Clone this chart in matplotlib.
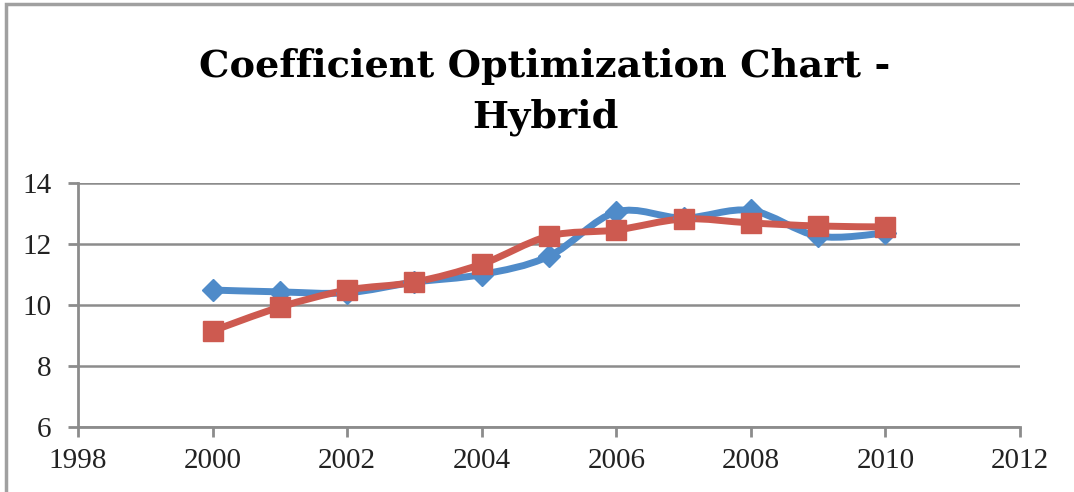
import matplotlib.pyplot as plt
import numpy as np
from matplotlib.path import Path
from matplotlib.patches import PathPatch, Rectangle

# Data
YEARS = [2000, 2001, 2002, 2003, 2004, 2005, 2006, 2007, 2008, 2009, 2010]
SERIES_BLUE = [10.49, 10.43, 10.40, 10.75, 11.00, 11.60, 13.05, 12.85, 13.10, 12.26, 12.36]
SERIES_RED = [9.15, 9.93, 10.49, 10.75, 11.34, 12.26, 12.46, 12.82, 12.69, 12.59, 12.56]
X_TICKS = [1998, 2000, 2002, 2004, 2006, 2008, 2010, 2012]
Y_TICKS = [6, 8, 10, 12, 14]
TITLE = "Coefficient Optimization Chart -\nHybrid"

BLUE = "#4f8bc9"
RED = "#cd5a50"
GRAY = "#8c8c8c"


def smooth_path(xs, ys):
    """Excel-style smoothed line: cubic Bezier segments through the points."""
    pts = np.column_stack([xs, ys]).astype(float)
    n = len(pts)
    verts = [pts[0]]
    codes = [Path.MOVETO]
    for i in range(n - 1):
        p0 = pts[i - 1] if i > 0 else pts[i]
        p1 = pts[i]
        p2 = pts[i + 1]
        p3 = pts[i + 2] if i + 2 < n else pts[i + 1]
        c1 = p1 + (p2 - p0) / 6.0
        c2 = p2 - (p3 - p1) / 6.0
        verts += [c1, c2, p2]
        codes += [Path.CURVE4] * 3
    return Path(verts, codes)


def plot_chart(output_file):
    plt.rcParams["font.family"] = ["Liberation Serif", "DejaVu Serif"]
    fig = plt.figure(figsize=(10.74, 4.92), dpi=100)
    ax = fig.add_axes([78 / 1074, 1 - 427 / 492, (1020 - 78) / 1074, (427 - 183) / 492])

    # outer chart frame (only left and top edges show)
    fig.patches.append(Rectangle((6 / 1074, -0.1), 1.2, 1 - 4 / 492 + 0.1,
                                 transform=fig.transFigure, fill=False,
                                 edgecolor="#a0a0a0", linewidth=2.5))

    for ys, color, marker, ms in [(SERIES_BLUE, BLUE, "D", 11), (SERIES_RED, RED, "s", 14)]:
        ax.add_patch(PathPatch(smooth_path(YEARS, ys), facecolor="none",
                               edgecolor=color, linewidth=5, zorder=3))
        ax.plot(YEARS, ys, linestyle="none", marker=marker, markersize=ms,
                color=color, zorder=4)

    ax.set_xlim(1998, 2012)
    ax.set_ylim(6, 14)
    ax.set_xticks(X_TICKS)
    ax.set_yticks(Y_TICKS)
    ax.tick_params(axis="both", direction="out", length=7, width=2, color=GRAY,
                   labelsize=21, labelcolor="#222222")
    ax.tick_params(axis="x", pad=8)
    ax.tick_params(axis="y", pad=12)
    ax.grid(axis="y", color=GRAY, linewidth=1.8)
    ax.set_axisbelow(True)
    for side in ["top", "right"]:
        ax.spines[side].set_visible(False)
    for side in ["left", "bottom"]:
        ax.spines[side].set_color(GRAY)
        ax.spines[side].set_linewidth(2)

    fig.text(545 / 1074, 1 - 92 / 492, TITLE, ha="center", va="center",
             fontsize=27.5, fontweight="bold", linespacing=1.45,
             family=["DejaVu Serif"])

    fig.savefig(output_file, dpi=100)


def main():
    plot_chart("out.png")


if __name__ == "__main__":
    main()
